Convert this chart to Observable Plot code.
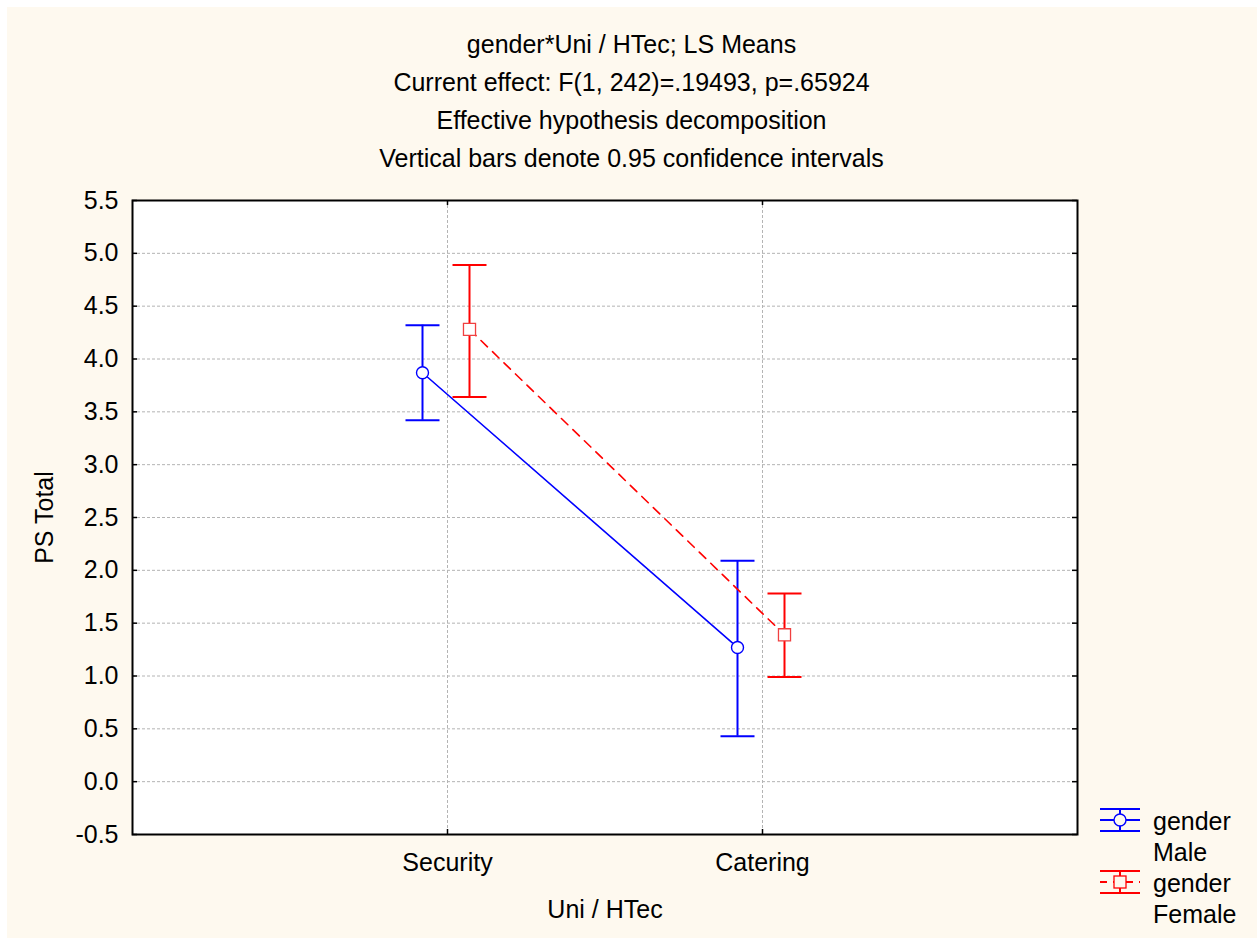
<!DOCTYPE html>
<html>
<head>
<meta charset="utf-8">
<script src="https://cdn.jsdelivr.net/npm/d3@7"></script>
<script src="https://cdn.jsdelivr.net/npm/@observablehq/plot@0.6"></script>
<style>
  html, body { margin: 0; padding: 0; background: #ffffff; }
  #page { position: relative; width: 1257px; height: 938px; overflow: hidden; }
  #bg { position: absolute; left: 7px; top: 7px; width: 1250px; height: 931px; background: #fef9ef; }
  #chart { position: absolute; left: 0; top: 0; }
  #title { position: absolute; left: 3px; top: 25px; width: 1257px; text-align: center;
           font-family: "Liberation Sans", Arial, sans-serif; font-size: 25px; line-height: 38px; color: #000; }
  #legend { position: absolute; left: 1096px; top: 806px; font-family: "Liberation Sans", Arial, sans-serif; font-size: 25px; }
</style>
</head>
<body>
<div id="page">
  <div id="bg"></div>
  <div id="chart"></div>
  <div id="title"></div>
  <div id="legend"></div>
</div>
<script>
const titleLines = [
  "gender*Uni / HTec; LS Means",
  "Current effect: F(1, 242)=.19493, p=.65924",
  "Effective hypothesis decomposition",
  "Vertical bars denote 0.95 confidence intervals"
];
const categories = ["Security", "Catering"];
const genderLabels = ["Male", "Female"];
const maleMean = [3.87, 1.27];
const maleLow = [3.42, 0.43];
const maleHigh = [4.32, 2.09];
const femaleMean = [4.28, 1.39];
const femaleLow = [3.64, 0.99];
const femaleHigh = [4.89, 1.78];
const yTicks = [-0.5, 0.0, 0.5, 1.0, 1.5, 2.0, 2.5, 3.0, 3.5, 4.0, 4.5, 5.0, 5.5];
const xLabel = "Uni / HTec";
const yLabel = "PS Total";

const male = categories.map((c, i) => ({cat: c, mean: maleMean[i], lo: maleLow[i], hi: maleHigh[i]}));
const female = categories.map((c, i) => ({cat: c, mean: femaleMean[i], lo: femaleLow[i], hi: femaleHigh[i]}));

const W = 1257, H = 938;
const mL = 132, mR = 180, mT = 200, mB = 104;
const fw = W - mL - mR, fh = H - mT - mB;
const blue = "#0000ff", red = "#ff0000";
const grid = "#b4b4b4";

// horizontal cap symbol for error bars
const capSymbol = {draw(context) { context.moveTo(-17, 0); context.lineTo(17, 0); }};

const chart = Plot.plot({
  width: W, height: H,
  marginLeft: mL, marginRight: mR, marginTop: mT, marginBottom: mB,
  style: {background: "transparent", fontFamily: "'Liberation Sans', Arial, sans-serif", fontSize: "25px", color: "#000"},
  x: {type: "point", domain: categories, padding: 1},
  y: {domain: [-0.5, 5.5]},
  marks: [
    Plot.frame({fill: "white", stroke: null}),
    Plot.gridY(yTicks.slice(1, -1), {stroke: grid, strokeOpacity: 1, strokeDasharray: "3,2"}),
    Plot.gridX(categories, {stroke: grid, strokeOpacity: 1, strokeDasharray: "3,2"}),
    Plot.axisY(yTicks, {tickSize: 0, tickPadding: 14, tickFormat: d => d.toFixed(1), label: null, fontSize: 25}),
    Plot.axisX(categories, {tickSize: 0, tickPadding: 19, label: null, fontSize: 25}),
    Plot.tickY(yTicks, {y: d => d, insetRight: fw - 5, stroke: "black", strokeWidth: 1.5}),
    Plot.tickY(yTicks, {y: d => d, insetLeft: fw - 5, stroke: "black", strokeWidth: 1.5}),
    Plot.tickX(categories, {x: d => d, insetTop: fh - 5, stroke: "black", strokeWidth: 1.5}),
    Plot.tickX(categories, {x: d => d, insetBottom: fh - 5, stroke: "black", strokeWidth: 1.5}),
    Plot.frame({stroke: "black", strokeWidth: 2}),
    Plot.text([yLabel], {frameAnchor: "left", textAnchor: "middle", dx: -88, rotate: -90, fontSize: 25}),
    Plot.text([xLabel], {frameAnchor: "bottom", dy: 83, fontSize: 25}),
    // Male
    Plot.line(male, {x: "cat", y: "mean", dx: -25, stroke: blue, strokeWidth: 1.6}),
    Plot.ruleX(male, {x: "cat", y1: "lo", y2: "hi", dx: -25, stroke: blue, strokeWidth: 2}),
    Plot.dot(male, {x: "cat", y: "lo", dx: -25, symbol: capSymbol, fill: "none", stroke: blue, strokeWidth: 2}),
    Plot.dot(male, {x: "cat", y: "hi", dx: -25, symbol: capSymbol, fill: "none", stroke: blue, strokeWidth: 2}),
    Plot.dot(male, {x: "cat", y: "mean", dx: -25, r: 6, fill: "white", stroke: blue, strokeWidth: 1.4}),
    // Female
    Plot.line(female, {x: "cat", y: "mean", dx: 22, stroke: red, strokeWidth: 1.6, strokeDasharray: "9,7"}),
    Plot.ruleX(female, {x: "cat", y1: "lo", y2: "hi", dx: 22, stroke: red, strokeWidth: 2}),
    Plot.dot(female, {x: "cat", y: "lo", dx: 22, symbol: capSymbol, fill: "none", stroke: red, strokeWidth: 2}),
    Plot.dot(female, {x: "cat", y: "hi", dx: 22, symbol: capSymbol, fill: "none", stroke: red, strokeWidth: 2}),
    Plot.dot(female, {x: "cat", y: "mean", dx: 22, r: 6.8, symbol: "square", fill: "white", stroke: "#f04040", strokeWidth: 1.3})
  ]
});
document.getElementById("chart").appendChild(chart);

document.getElementById("title").innerHTML = titleLines.map(t => `<div>${t}</div>`).join("");

const legendSym = (color, dashed, square) => `
<svg width="46" height="28" style="vertical-align:top">
  <line x1="4" y1="3" x2="44" y2="3" stroke="${color}" stroke-width="2"/>
  <line x1="4" y1="25" x2="44" y2="25" stroke="${color}" stroke-width="2"/>
  <line x1="24" y1="3" x2="24" y2="25" stroke="${color}" stroke-width="2"/>
  <line x1="4" y1="14" x2="44" y2="14" stroke="${color}" stroke-width="2" ${dashed ? 'stroke-dasharray="7,6"' : ''}/>
  ${square ? `<rect x="18" y="8" width="12" height="12" fill="#fef9ef" stroke="${color}" stroke-width="1.3"/>`
           : `<circle cx="24" cy="14" r="6" fill="#fef9ef" stroke="${color}" stroke-width="1.4"/>`}
</svg>`;
const legendItems = [[blue, false, false], [red, true, true]];
document.getElementById("legend").innerHTML = genderLabels.map((g, i) => {
  const [c, d, s] = legendItems[i];
  return `<div style="display:flex;align-items:flex-start;margin-bottom:0px">
    ${legendSym(c, d, s)}
    <div style="margin-left:11px;line-height:31px;margin-top:0px">gender<br>${g}</div>
  </div>`;
}).join("");
</script>
</body>
</html>
